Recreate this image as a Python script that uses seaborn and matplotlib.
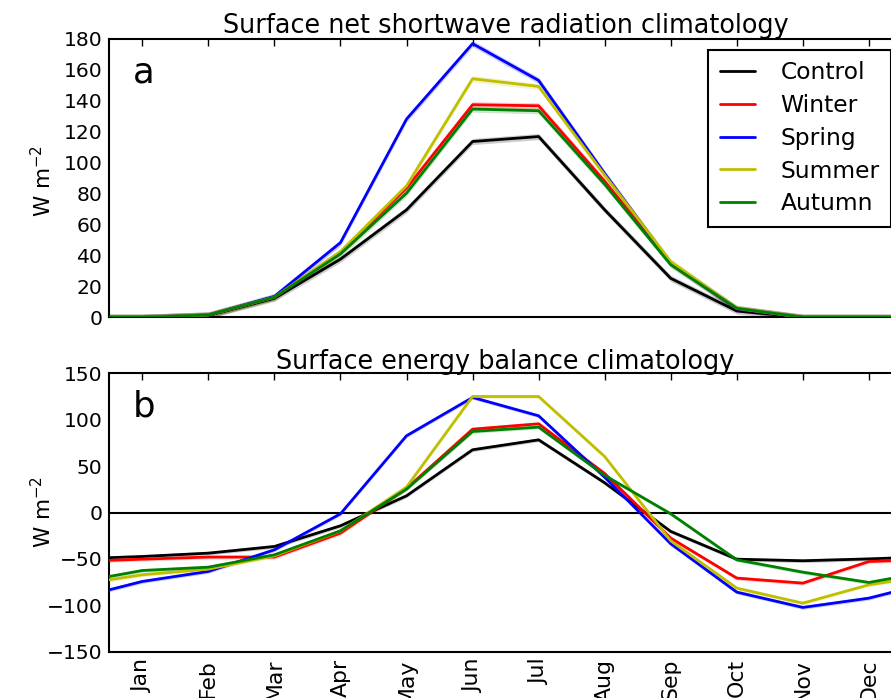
import numpy as np
import pandas as pd
import matplotlib
matplotlib.use("Agg")
import matplotlib.pyplot as plt
import seaborn as sns

months = ["Jan", "Feb", "Mar", "Apr", "May", "Jun", "Jul", "Aug", "Sep", "Oct", "Nov", "Dec"]
experiments = ["Control", "Winter", "Spring", "Summer", "Autumn"]
colors = ["k", "r", "b", "y", "g"]

# Panel a: surface net shortwave radiation (W m-2)
sw_control = [0, 1.2, 12.3, 37.6, 69.5, 113.7, 116.9, 69.5, 25.2, 4.1, 0, 0]
sw_winter = [0, 1.5, 13.0, 42.0, 83.5, 137.5, 136.8, 88.0, 35.0, 5.5, 0, 0]
sw_spring = [0, 1.5, 13.5, 48.3, 128.2, 177.0, 153.2, 93.0, 35.0, 5.5, 0, 0]
sw_summer = [0, 1.5, 13.0, 42.5, 85.0, 154.3, 149.3, 92.0, 36.0, 5.8, 0, 0]
sw_autumn = [0, 1.5, 13.0, 41.0, 80.3, 134.7, 133.6, 86.0, 34.0, 5.8, 0, 0]

# Panel b: surface energy balance (W m-2)
eb_control = [-47.4, -43.8, -36.6, -14.3, 18.0, 67.6, 78.3, 32.0, -20.4, -50.3, -52.0, -50.0]
eb_winter = [-50.3, -48.0, -48.0, -22.2, 26.0, 89.8, 95.6, 42.0, -27.6, -70.7, -76.1, -52.8]
eb_spring = [-74.3, -63.5, -40.2, -1.4, 82.7, 124.0, 104.2, 38.0, -33.7, -85.8, -102.3, -92.3]
eb_summer = [-67.1, -61.0, -46.7, -20.0, 27.4, 125.0, 125.0, 60.3, -30.5, -81.5, -97.7, -77.9]
eb_autumn = [-62.5, -58.9, -45.6, -19.7, 25.2, 87.3, 92.0, 40.0, -1.4, -51.0, -64.3, -75.4]

# ensemble spread (half-width of shaded band), W m-2
spread = [2.0, 2.0, 2.0, 2.0, 2.0]

sw_series = [sw_control, sw_winter, sw_spring, sw_summer, sw_autumn]
eb_series = [eb_control, eb_winter, eb_spring, eb_summer, eb_autumn]


def long_frame(series_list):
    rows = []
    for name, vals in zip(experiments, series_list):
        # cyclic climatology: pad with Dec before Jan and Jan after Dec
        wrapped = [vals[-1]] + list(vals) + [vals[0]]
        for i, v in enumerate(wrapped):
            rows.append({"month": i, "value": v, "experiment": name})
    return pd.DataFrame(rows)


sns.set_style("white")
plt.rcParams.update({
    "font.family": ["DejaVu Sans"],
    "xtick.direction": "in",
    "ytick.direction": "in",
    "xtick.top": True,
    "ytick.right": True,
    "xtick.major.size": 5,
    "ytick.major.size": 5,
    "xtick.major.width": 1.0,
    "ytick.major.width": 1.0,
    "axes.linewidth": 1.5,
    "axes.edgecolor": "black",
    "xtick.color": "black",
    "ytick.color": "black",
    "text.color": "black",
})

fig = plt.figure(figsize=(8.91, 6.98), dpi=100)
left = 109.3 / 891
width = (901.9 - 109.3) / 891
ax_a = fig.add_axes([left, 1 - 317.3 / 698, width, (317.3 - 39.0) / 698])
ax_b = fig.add_axes([left, 1 - 651.7 / 698, width, (651.7 - 373.3) / 698])

palette = dict(zip(experiments, colors))
tick_fs = 14.6
month_fs = 15.8
title_fs = 18.4
legend_fs = 16.8

for ax, series, title, letter, ylim, yticks in [
    (ax_a, sw_series, "Surface net shortwave radiation climatology", "a", (0, 180), np.arange(0, 181, 20)),
    (ax_b, eb_series, "Surface energy balance climatology", "b", (-150, 150), np.arange(-150, 151, 50)),
]:
    df = long_frame(series)
    for name, sp in zip(experiments, spread):
        sub = df[df.experiment == name]
        ax.fill_between(sub.month, sub.value - sp, sub.value + sp,
                        color=palette[name], alpha=0.2, lw=0, zorder=1)
    sns.lineplot(data=df, x="month", y="value", hue="experiment", palette=palette,
                 hue_order=experiments, lw=2, ax=ax, legend=(ax is ax_a), zorder=3)
    if ax is ax_b:
        ax.axhline(0, color="k", lw=1.5, zorder=2)
    ax.set_xlim(0.5, 12.5)
    ax.set_ylim(*ylim)
    ax.set_yticks(yticks)
    ax.set_xticks(range(1, 13))
    ax.tick_params(axis="y", labelsize=tick_fs, pad=5)
    ax.tick_params(axis="x", labelsize=month_fs, pad=5)
    ax.set_xlabel("")
    ax.set_ylabel("")
    ax.set_title(title, fontsize=title_fs, pad=3)
    ax.text(0.03, 0.845, letter, transform=ax.transAxes, fontsize=25.5, va="baseline", ha="left")
    for s in ax.spines.values():
        s.set_visible(True)
        s.set_color("black")

ax_a.set_xticklabels([])
ax_b.set_xticklabels(months, rotation=90)

fig.text(43 / 891, 1 - 181 / 698, "W m$^{-2}$", rotation=90, ha="center", va="center", fontsize=15.5)
fig.text(43 / 891, 1 - 512.5 / 698, "W m$^{-2}$", rotation=90, ha="center", va="center", fontsize=15.5)

leg = ax_a.legend(loc="upper right", fontsize=legend_fs, frameon=True, fancybox=False,
                  edgecolor="black", framealpha=1, handlelength=1.5, handletextpad=1.1,
                  labelspacing=0.42, borderpad=0.5, borderaxespad=0.45)
leg.get_frame().set_linewidth(1.5)
for line in leg.get_lines():
    line.set_linewidth(2)

fig.savefig("out.png", dpi=100)
